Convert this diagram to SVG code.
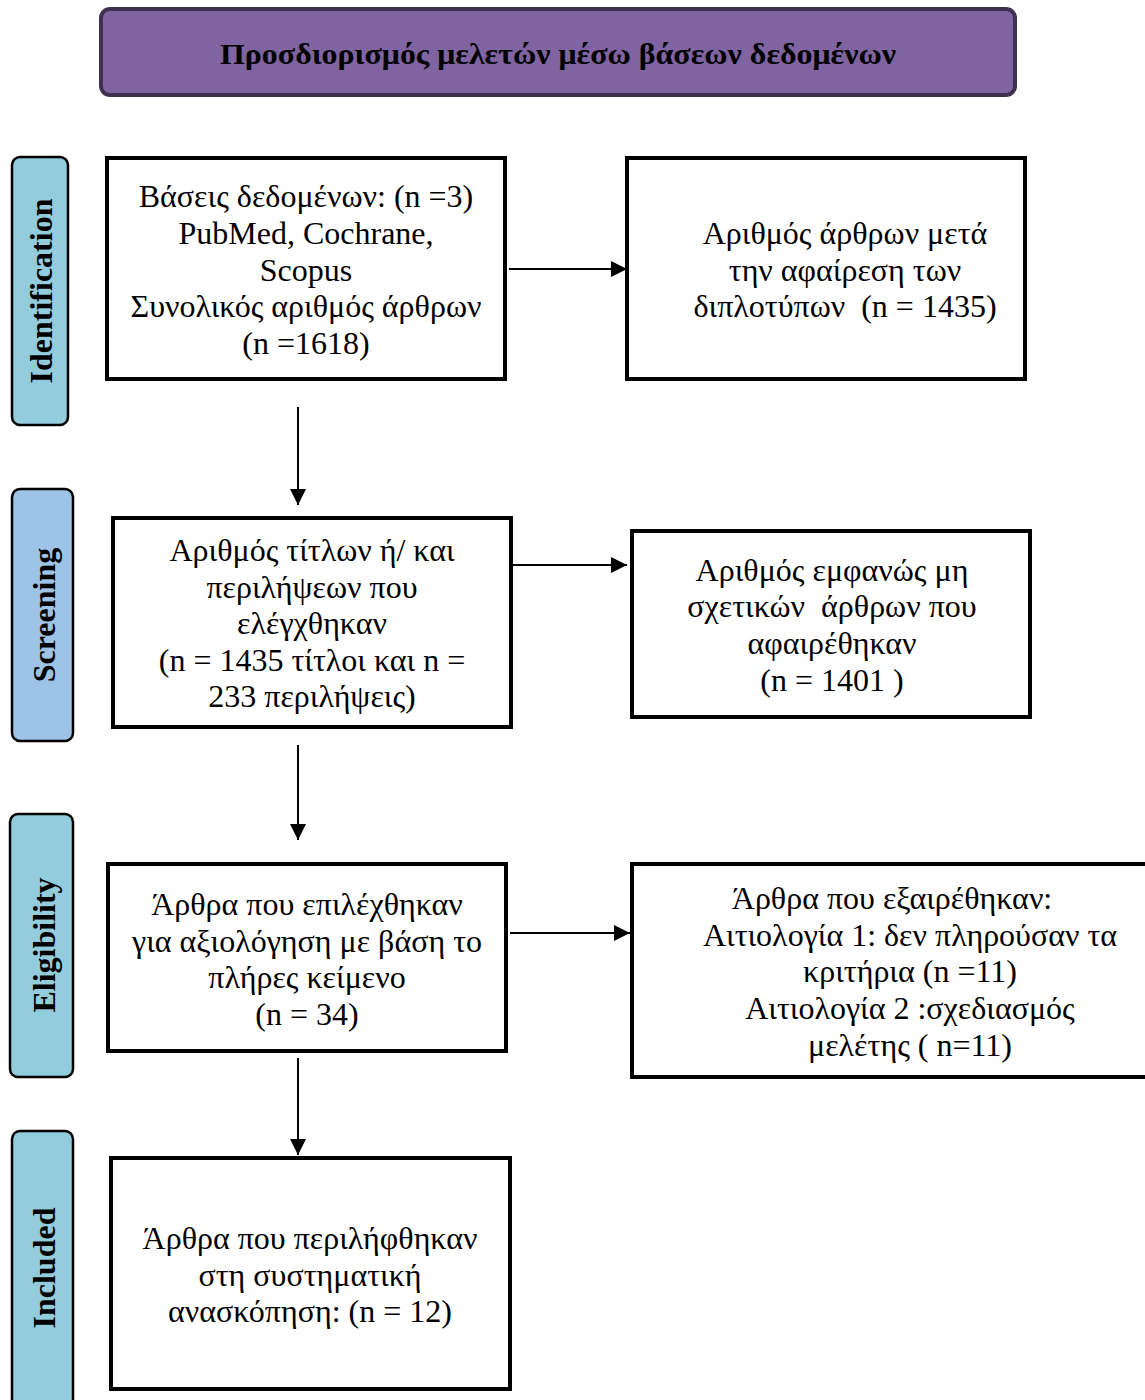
<svg xmlns="http://www.w3.org/2000/svg" width="1145" height="1400" viewBox="0 0 1145 1400">
<style>
.box{fill:#fff;stroke:#000;stroke-width:4}
.lbl{stroke:#000;stroke-width:2.5}
.t{font-family:"Liberation Serif","Times New Roman",serif;font-size:32px;fill:#000;text-anchor:middle}
.s{font-family:"Liberation Serif","Times New Roman",serif;font-size:32px;font-weight:bold;fill:#000;text-anchor:middle}
.c{stroke:#000;stroke-width:2;fill:none}
</style>
<defs>
<marker id="a" viewBox="0 0 16 16" refX="16" refY="8" markerWidth="16" markerHeight="16" orient="auto" markerUnits="userSpaceOnUse">
<path d="M0,0 L16,8 L0,16 z" fill="#000"/>
</marker>
</defs>
<rect width="1145" height="1400" fill="#fff"/>
<g id="title">
<rect x="101" y="9" width="914" height="86" rx="9" fill="#8064A2" stroke="#3F3151" stroke-width="4"/>
<text x="558" y="64" class="s" style="font-size:30px" textLength="676" lengthAdjust="spacingAndGlyphs">Προσδιορισμός μελετών μέσω βάσεων δεδομένων</text>
</g>
<g id="stage-identification">
<rect class="lbl" x="12" y="157" width="56" height="268" rx="8" fill="#93CDDD"/>
<text class="s" transform="translate(52,291) rotate(-90)">Identification</text>
</g>
<g id="stage-screening">
<rect class="lbl" x="12" y="489" width="61" height="252" rx="8" fill="#9DC3E6"/>
<text class="s" transform="translate(55,615) rotate(-90)">Screening</text>
</g>
<g id="stage-eligibility">
<rect class="lbl" x="10" y="814" width="63" height="263" rx="8" fill="#93CDDD"/>
<text class="s" transform="translate(55,945) rotate(-90)">Eligibility</text>
</g>
<g id="stage-included">
<rect class="lbl" x="12" y="1131" width="61" height="290" rx="8" fill="#93CDDD"/>
<text class="s" transform="translate(55,1268) rotate(-90)">Included</text>
</g>
<g id="n1">
<rect class="box" x="107" y="158" width="398" height="221"/>
<text class="t" x="306" y="207">Βάσεις δεδομένων: (n =3)</text>
<text class="t" x="306" y="244">PubMed, Cochrane,</text>
<text class="t" x="306" y="281">Scopus</text>
<text class="t" x="306" y="317">Συνολικός αριθμός άρθρων</text>
<text class="t" x="306" y="354">(n =1618)</text>
</g>
<g id="n2">
<rect class="box" x="627" y="158" width="398" height="221"/>
<text class="t" x="845" y="244">Αριθμός άρθρων μετά</text>
<text class="t" x="845" y="281">την αφαίρεση των</text>
<text class="t" x="845" y="317" xml:space="preserve">διπλοτύπων  (n = 1435)</text>
</g>
<g id="n3">
<rect class="box" x="113" y="518" width="398" height="209"/>
<text class="t" x="312" y="561">Αριθμός τίτλων ή/ και</text>
<text class="t" x="312" y="598">περιλήψεων που</text>
<text class="t" x="312" y="634">ελέγχθηκαν</text>
<text class="t" x="312" y="671">(n = 1435 τίτλοι και n =</text>
<text class="t" x="312" y="707">233 περιλήψεις)</text>
</g>
<g id="n4">
<rect class="box" x="632" y="531" width="398" height="186"/>
<text class="t" x="832" y="581">Αριθμός εμφανώς μη</text>
<text class="t" x="832" y="617" xml:space="preserve">σχετικών  άρθρων που</text>
<text class="t" x="832" y="654">αφαιρέθηκαν</text>
<text class="t" x="832" y="691">(n = 1401 )</text>
</g>
<g id="n5">
<rect class="box" x="108" y="864" width="398" height="187"/>
<text class="t" x="307" y="915">Άρθρα που επιλέχθηκαν</text>
<text class="t" x="307" y="952">για αξιολόγηση με βάση το</text>
<text class="t" x="307" y="988">πλήρες κείμενο</text>
<text class="t" x="307" y="1025">(n = 34)</text>
</g>
<g id="n6">
<rect class="box" x="632" y="864" width="525" height="213"/>
<text class="t" x="892" y="909">Άρθρα που εξαιρέθηκαν:</text>
<text class="t" x="910" y="946">Αιτιολογία 1: δεν πληρούσαν τα</text>
<text class="t" x="910" y="982">κριτήρια (n =11)</text>
<text class="t" x="910" y="1019">Αιτιολογία 2 :σχεδιασμός</text>
<text class="t" x="910" y="1056">μελέτης ( n=11)</text>
</g>
<g id="n7">
<rect class="box" x="111" y="1158" width="399" height="231"/>
<text class="t" x="310" y="1249">Άρθρα που περιλήφθηκαν</text>
<text class="t" x="310" y="1286">στη συστηματική</text>
<text class="t" x="310" y="1322">ανασκόπηση: (n = 12)</text>
</g>
<g id="connectors">
<line class="c" x1="509" y1="269" x2="627" y2="269" marker-end="url(#a)"/>
<line class="c" x1="298" y1="407" x2="298" y2="505" marker-end="url(#a)"/>
<line class="c" x1="513" y1="565" x2="627" y2="565" marker-end="url(#a)"/>
<line class="c" x1="298" y1="745" x2="298" y2="840" marker-end="url(#a)"/>
<line class="c" x1="510" y1="933" x2="630" y2="933" marker-end="url(#a)"/>
<line class="c" x1="298" y1="1058" x2="298" y2="1155" marker-end="url(#a)"/>
</g>
</svg>
